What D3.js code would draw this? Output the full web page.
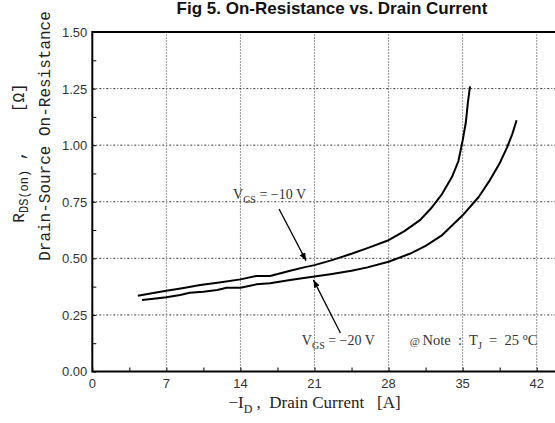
<!DOCTYPE html>
<html>
<head>
<meta charset="utf-8">
<script src="https://cdn.jsdelivr.net/npm/d3@7"></script>
<style>
  body { margin: 0; background: #fff; }
  svg { display: block; }
</style>
</head>
<body>
<div id="chart"></div>
<script>
// DATA
const xTicks = [0, 7, 14, 21, 28, 35, 42];
const yTicks = [0.00, 0.25, 0.50, 0.75, 1.00, 1.25, 1.50];

// VGS = -10 V
const vgs10Current = [4.3, 5.5, 7.0, 8.5, 10.2, 12.0, 14.0, 15.5, 16.8, 18.7, 20.0, 21.0, 22.5, 24.5, 26.0, 28.0, 29.5, 31.0, 32.0, 33.0, 34.0, 34.6, 35.0, 35.3, 35.5, 35.7];
const vgs10Rds     = [0.335, 0.345, 0.357, 0.368, 0.382, 0.393, 0.407, 0.422, 0.422, 0.445, 0.46, 0.47, 0.49, 0.52, 0.545, 0.58, 0.62, 0.67, 0.72, 0.78, 0.86, 0.93, 1.02, 1.10, 1.19, 1.26];

// VGS = -20 V
const vgs20Current = [4.7, 6.0, 7.0, 8.3, 9.2, 10.5, 11.8, 12.7, 14.0, 15.5, 16.8, 18.7, 20.0, 21.0, 22.5, 24.5, 26.0, 28.0, 30.0, 31.5, 33.0, 35.0, 36.5, 37.5, 38.5, 39.2, 39.7, 40.1];
const vgs20Rds     = [0.316, 0.323, 0.328, 0.338, 0.348, 0.352, 0.36, 0.37, 0.37, 0.385, 0.39, 0.404, 0.413, 0.42, 0.43, 0.445, 0.46, 0.485, 0.52, 0.555, 0.6, 0.69, 0.77, 0.84, 0.92, 0.99, 1.05, 1.11];

// 1. SETUP
const width = 555;
const height = 423;
const margin = { top: 32, left: 92.3, bottom: 51.5 };

const svg = d3.select("#chart")
    .append("svg")
    .attr("width", width)
    .attr("height", height);

const x = d3.scaleLinear()
    .domain([0, 42])
    .range([margin.left, 536.7]);

const y = d3.scaleLinear()
    .domain([0, 1.5])
    .range([height - margin.bottom, margin.top]);

const serif = "'Liberation Serif', 'Times New Roman', serif";
const mono = "'Liberation Mono', 'Courier New', monospace";
const sans = "'Liberation Sans', Arial, sans-serif";

// --- TITLE ---
svg.append("text")
    .attr("x", 332)
    .attr("y", 14)
    .attr("text-anchor", "middle")
    .attr("font-family", sans)
    .attr("font-weight", "bold")
    .attr("font-size", "17px")
    .attr("fill", "#111")
    .text("Fig 5.  On-Resistance vs. Drain Current");

// --- GRID ---
svg.append("g")
    .selectAll("line")
    .data(xTicks.slice(1))
    .join("line")
    .attr("x1", d => x(d)).attr("x2", d => x(d))
    .attr("y1", y(0)).attr("y2", y(1.5))
    .attr("stroke", "#333")
    .attr("stroke-width", 1)
    .attr("stroke-dasharray", "1,2");

svg.append("g")
    .selectAll("line")
    .data(yTicks.slice(1, -1))
    .join("line")
    .attr("x1", x(0)).attr("x2", x(44))
    .attr("y1", d => y(d)).attr("y2", d => y(d))
    .attr("stroke", "#333")
    .attr("stroke-width", 1)
    .attr("stroke-dasharray", "2,2,1,2");

// --- AXES (inside ticks) ---
svg.append("g")
    .attr("transform", `translate(0, ${y(0)})`)
    .call(d3.axisTop(x).tickValues(d3.range(0, 43, 3.5)).tickSize(4).tickFormat(""))
    .call(g => g.select(".domain").remove())
    .selectAll("line").attr("stroke", "#000");

svg.append("g")
    .attr("transform", `translate(${x(0)}, 0)`)
    .call(d3.axisRight(y).tickValues(d3.range(0, 1.51, 0.125)).tickSize(4).tickFormat(""))
    .call(g => g.select(".domain").remove())
    .selectAll("line").attr("stroke", "#000");

// tick labels
svg.append("g")
    .selectAll("text")
    .data(xTicks)
    .join("text")
    .attr("x", d => x(d))
    .attr("y", y(0) + 16.5)
    .attr("text-anchor", "middle")
    .attr("font-family", sans)
    .attr("font-size", "13px")
    .attr("fill", "#333")
    .text(d => d);

svg.append("g")
    .selectAll("text")
    .data(yTicks)
    .join("text")
    .attr("x", x(0) - 5)
    .attr("y", d => y(d))
    .attr("dy", "0.38em")
    .attr("text-anchor", "end")
    .attr("font-family", sans)
    .attr("font-size", "13px")
    .attr("fill", "#333")
    .text(d => d.toFixed(2));

// frame
svg.append("path")
    .attr("d", `M${x(44)},${y(1.5)} H${x(0)} V${y(0)} H${x(44)}`)
    .attr("fill", "none")
    .attr("stroke", "#000")
    .attr("stroke-width", 2);

// --- AXIS TITLES ---
const xTitle = svg.append("text")
    .attr("x", x(21))
    .attr("y", 408)
    .attr("text-anchor", "middle")
    .attr("font-family", serif)
    .attr("font-size", "17px")
    .attr("fill", "#222");
xTitle.append("tspan").text("\u2212I");
xTitle.append("tspan").attr("dy", 5).attr("font-size", "12px").text("D");
xTitle.append("tspan").attr("dy", -5).attr("xml:space", "preserve").text(" ,  Drain Current   [A]");

const yTitle = svg.append("g")
    .attr("font-family", mono)
    .attr("fill", "#222");

const y1 = yTitle.append("text")
    .attr("transform", "translate(24, 153) rotate(-90)")
    .attr("text-anchor", "middle")
    .attr("font-size", "16px");
y1.append("tspan").text("R");
y1.append("tspan").attr("dy", 4).attr("font-size", "12px").text("DS(on)");
y1.append("tspan").attr("dy", -4).attr("xml:space", "preserve").text(" ,    [\u03A9]");

yTitle.append("text")
    .attr("transform", "translate(50, 136) rotate(-90)")
    .attr("text-anchor", "middle")
    .attr("font-size", "16px")
    .text("Drain-Source On-Resistance");

// --- CURVES ---
const line = d3.line()
    .x(d => x(d[0]))
    .y(d => y(d[1]));

const series = [
    d3.zip(vgs10Current, vgs10Rds),
    d3.zip(vgs20Current, vgs20Rds)
];

svg.append("g")
    .selectAll("path")
    .data(series)
    .join("path")
    .attr("d", line)
    .attr("fill", "none")
    .attr("stroke", "#000")
    .attr("stroke-width", 2)
    .attr("stroke-linejoin", "round");

// --- ANNOTATIONS ---
svg.append("defs").append("marker")
    .attr("id", "arrow")
    .attr("viewBox", "0 0 10 10")
    .attr("refX", 10).attr("refY", 5)
    .attr("markerWidth", 6).attr("markerHeight", 6)
    .attr("orient", "auto")
    .append("path")
    .attr("d", "M0,1 L10,5 L0,9 z")
    .attr("fill", "#000");

const arrows = [
    { from: [17.65, 0.718], to: [20.2, 0.49] },
    { from: [23.45, 0.17], to: [20.9, 0.405] }
];

svg.append("g")
    .selectAll("line")
    .data(arrows)
    .join("line")
    .attr("x1", d => x(d.from[0])).attr("y1", d => y(d.from[1]))
    .attr("x2", d => x(d.to[0])).attr("y2", d => y(d.to[1]))
    .attr("stroke", "#000")
    .attr("stroke-width", 1.3)
    .attr("marker-end", "url(#arrow)");

function vgsLabel(ax, ay, val) {
    const t = svg.append("text")
        .attr("x", x(ax))
        .attr("y", y(ay))
        .attr("font-family", serif)
        .attr("font-size", "14px")
        .attr("fill", "#333");
    t.append("tspan").text("V");
    t.append("tspan").attr("dy", 4).attr("font-size", "10px").text("GS");
    t.append("tspan").attr("dy", -4).attr("xml:space", "preserve").text(" = \u2212" + val + " V");
}
vgsLabel(13.3, 0.762, 10);
vgsLabel(19.8, 0.118, 20);

const note = svg.append("text")
    .attr("x", x(30.0))
    .attr("y", y(0.118))
    .attr("font-family", serif)
    .attr("font-size", "14.5px")
    .attr("fill", "#333");
note.append("tspan").attr("font-size", "11px").text("@ ");
note.append("tspan").attr("xml:space", "preserve").text("Note  :  T");
note.append("tspan").attr("dy", 4).attr("font-size", "10px").text("J");
note.append("tspan").attr("dy", -4).attr("xml:space", "preserve").text("  =  25 ");
note.append("tspan").attr("dy", -5).attr("font-size", "10px").text("o");
note.append("tspan").attr("dy", 5).text("C");
</script>
</body>
</html>
